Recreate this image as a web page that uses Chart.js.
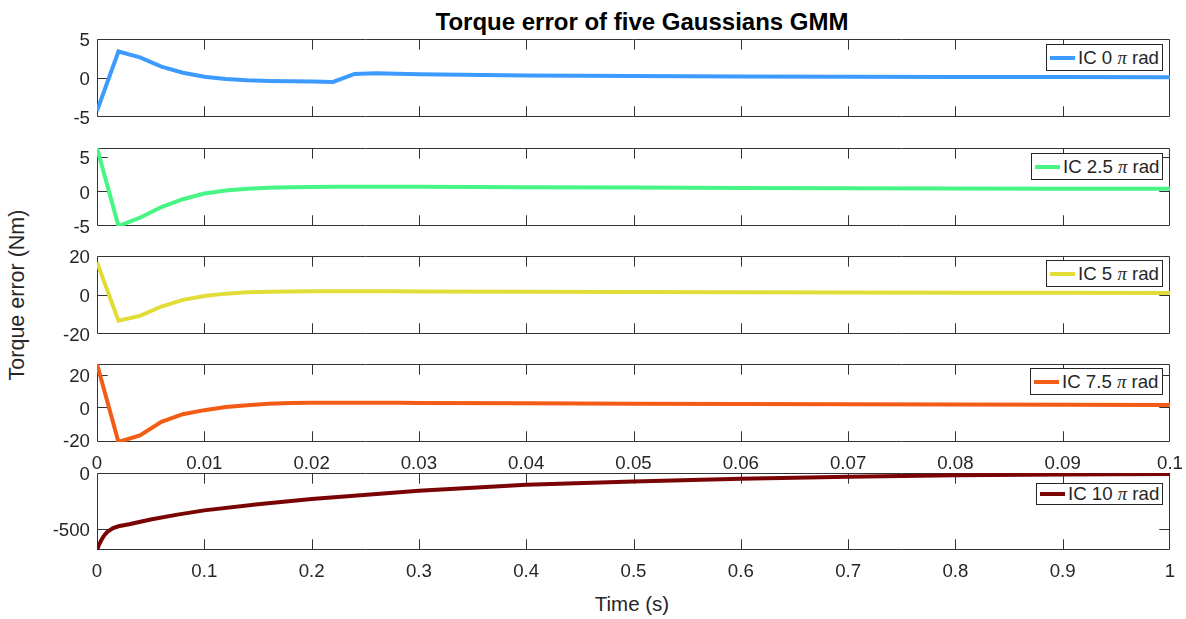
<!DOCTYPE html>
<html>
<head>
<meta charset="utf-8">
<script src="https://cdn.jsdelivr.net/npm/chart.js@4.4.0/dist/chart.umd.min.js"></script>
<style>
  body { margin: 0; background: #fff; }
  #fig { position: relative; width: 1186px; height: 619px; overflow: hidden;
         font-family: "Liberation Sans", Arial, sans-serif; color: #262626; }
  #fig canvas { position: absolute; left: 0; }
  .txt { position: absolute; white-space: nowrap; line-height: 1; }
  #title { left: 642px; top: 10px; transform: translateX(-50%); font-size: 24px; font-weight: bold; color: #000; }
  #xlabel { left: 632px; top: 594px; transform: translateX(-50%); font-size: 20.5px; }
  #ylabel { left: 18px; top: 295px; transform: translate(-50%, -50%) rotate(-90deg); font-size: 21.5px; }
  .legend { position: absolute; background: #fff; border: 1px solid #262626; box-sizing: border-box;
            display: flex; align-items: center; font-size: 18.67px; z-index: 5; white-space: nowrap; }
  .legend .sample { width: 25px; height: 4px; margin: 0 3px 0 3px; flex: none; }
  .legend i { font-family: "Liberation Serif", serif; }
</style>
</head>
<body>
<div id="fig">
  <div id="title" class="txt">Torque error of five Gaussians GMM</div>
  <div id="xlabel" class="txt">Time (s)</div>
  <div id="ylabel" class="txt">Torque error (Nm)</div>
</div>
<script>
// time axes
const timeShort = [0, 0.002, 0.004, 0.006, 0.008, 0.01, 0.012, 0.014, 0.016, 0.018, 0.02, 0.022,
  0.024, 0.026, 0.028, 0.03, 0.04, 0.05, 0.06, 0.07, 0.08, 0.09, 0.1];
const timeLong = [0, 0.002, 0.004, 0.006, 0.008, 0.01, 0.015, 0.02, 0.03, 0.05, 0.075, 0.1,
  0.15, 0.2, 0.3, 0.4, 0.5, 0.6, 0.7, 0.8, 0.9, 1.0];

// torque error per initial condition
const ic0  = [-4.2, 3.4, 2.65, 1.45, 0.68, 0.17, -0.13, -0.29, -0.37, -0.42, -0.46, -0.5,
  0.52, 0.6, 0.55, 0.48, 0.33, 0.25, 0.2, 0.17, 0.14, 0.12, 0.1];
const ic25 = [6.3, -5.0, -3.8, -2.25, -1.12, -0.3, 0.15, 0.38, 0.53, 0.6, 0.65, 0.68,
  0.69, 0.69, 0.68, 0.67, 0.62, 0.57, 0.52, 0.48, 0.44, 0.41, 0.38];
const ic5  = [16.8, -13.2, -10.7, -5.9, -2.5, -0.5, 0.7, 1.35, 1.7, 1.85, 1.9, 1.92,
  1.92, 1.9, 1.88, 1.85, 1.7, 1.55, 1.42, 1.3, 1.2, 1.1, 1.0];
const ic75 = [27, -21.5, -17.4, -9.0, -4.2, -1.7, 0.2, 1.4, 2.3, 2.7, 2.9, 2.95,
  2.95, 2.9, 2.85, 2.8, 2.55, 2.3, 2.1, 1.9, 1.75, 1.6, 1.45];
const ic10 = [-688, -640, -600, -568, -543, -523, -493, -476, -458, -415, -372, -334,
  -280, -232, -158, -104, -75, -52, -34, -21, -13, -8];

const icLabels = ["0", "2.5", "5", "7.5", "10"];

const xTicksShort = [0, 0.01, 0.02, 0.03, 0.04, 0.05, 0.06, 0.07, 0.08, 0.09, 0.1];
const xTickLabelsShort = ["0", "0.01", "0.02", "0.03", "0.04", "0.05", "0.06", "0.07", "0.08", "0.09", "0.1"];
const xTicksLong = [0, 0.1, 0.2, 0.3, 0.4, 0.5, 0.6, 0.7, 0.8, 0.9, 1];
const xTickLabelsLong = ["0", "0.1", "0.2", "0.3", "0.4", "0.5", "0.6", "0.7", "0.8", "0.9", "1"];

const yLimits = [[-5, 5], [-5, 6.3], [-20, 20], [-21.5, 27], [-688, 0]];
const yTicks = [[-5, 0, 5], [-5, 0, 5], [-20, 0, 20], [-20, 0, 20], [-500, 0]];
const yTickLabels = [["-5", "0", "5"], ["-5", "0", "5"], ["-20", "0", "20"], ["-20", "0", "20"], ["-500", "0"]];

// styles and layout
const lineColors = ["#3d9bff", "#46f584", "#e2dc37", "#f25c14", "#7a0403"];
const panels = [
  { t: 39,  b: 117, labels: false, leg: { l: 1046, t: 44,  w: 117, h: 27 } },
  { t: 148, b: 226, labels: false, leg: { l: 1031, t: 153, w: 132, h: 27 } },
  { t: 256, b: 334, labels: false, leg: { l: 1046, t: 260, w: 117, h: 27 } },
  { t: 364, b: 442, labels: true,  leg: { l: 1030, t: 368, w: 133, h: 27 } },
  { t: 473, b: 550, labels: true,  leg: { l: 1036, t: 483, w: 127, h: 22 } },
];
const series = [
  { x: timeShort, y: ic0 },
  { x: timeShort, y: ic25 },
  { x: timeShort, y: ic5 },
  { x: timeShort, y: ic75 },
  { x: timeLong, y: ic10 },
];

const TICK_LEN = 10.7;
const PAD_TOP = 14;
const tickFont = { family: "'Liberation Sans', Arial, sans-serif", size: 18.67 };

const axesBox = {
  id: "axesBox",
  beforeDatasetsDraw(chart) {
    const { ctx, chartArea: a, scales } = chart;
    ctx.save();
    ctx.strokeStyle = "#333333";
    ctx.lineWidth = 1;
    ctx.beginPath();
    ctx.rect(a.left + 0.5, a.top + 0.5, a.right - a.left - 1, a.bottom - a.top - 1);
    scales.x.ticks.forEach((t) => {
      const px = Math.round(scales.x.getPixelForValue(t.value)) + 0.5;
      if (px < a.left + 2 || px > a.right - 2) return;
      ctx.moveTo(px, a.bottom);
      ctx.lineTo(px, a.bottom - TICK_LEN);
      ctx.moveTo(px, a.top);
      ctx.lineTo(px, a.top + TICK_LEN);
    });
    scales.y.ticks.forEach((t) => {
      const py = Math.round(scales.y.getPixelForValue(t.value)) + 0.5;
      if (py < a.top + 2 || py > a.bottom - 2) return;
      ctx.moveTo(a.left, py);
      ctx.lineTo(a.left + TICK_LEN, py);
      ctx.moveTo(a.right, py);
      ctx.lineTo(a.right - TICK_LEN, py);
    });
    ctx.stroke();
    ctx.restore();
  },
};

const fig = document.getElementById("fig");

panels.forEach((p, i) => {
  const xh = p.labels ? 36 : 14;
  const canvas = document.createElement("canvas");
  canvas.width = 1186;
  canvas.height = PAD_TOP + (p.b - p.t) + xh;
  canvas.style.top = (p.t - PAD_TOP) + "px";
  fig.appendChild(canvas);

  const isLong = i === 4;
  const xt = isLong ? xTicksLong : xTicksShort;
  const xl = isLong ? xTickLabelsLong : xTickLabelsShort;

  new Chart(canvas, {
    type: "line",
    data: {
      datasets: [{
        data: series[i].x.map((x, k) => ({ x: x, y: series[i].y[k] })),
        borderColor: lineColors[i],
        borderWidth: 4,
        pointRadius: 0,
        fill: false,
        clip: 0,
      }],
    },
    options: {
      responsive: false,
      animation: false,
      events: [],
      layout: { padding: { left: 0, right: 16, top: PAD_TOP, bottom: 0 } },
      plugins: { legend: { display: false }, tooltip: { enabled: false } },
      scales: {
        x: {
          type: "linear",
          min: xt[0],
          max: xt[xt.length - 1],
          grid: { display: false, drawTicks: false },
          border: { display: false },
          ticks: {
            display: p.labels,
            font: tickFont,
            color: "#262626",
            padding: 11,
            maxRotation: 0,
            autoSkip: false,
            callback: (v, idx) => xl[idx],
          },
          afterBuildTicks: (s) => { s.ticks = xt.map((v) => ({ value: v })); },
          afterFit: (s) => { s.height = xh; s.paddingLeft = 0; s.paddingRight = 0; },
        },
        y: {
          type: "linear",
          min: yLimits[i][0],
          max: yLimits[i][1],
          grid: { display: false, drawTicks: false },
          border: { display: false },
          ticks: {
            font: tickFont,
            color: "#262626",
            padding: 7,
            labelOffset: 2,
            autoSkip: false,
            callback: (v, idx) => yTickLabels[i][idx],
          },
          afterBuildTicks: (s) => { s.ticks = yTicks[i].map((v) => ({ value: v })); },
          afterFit: (s) => { s.width = 97; s.paddingTop = 0; s.paddingBottom = 0; },
        },
      },
    },
    plugins: [axesBox],
  });

  const leg = document.createElement("div");
  leg.className = "legend";
  leg.style.left = p.leg.l + "px";
  leg.style.top = p.leg.t + "px";
  leg.style.width = p.leg.w + "px";
  leg.style.height = p.leg.h + "px";
  leg.innerHTML = '<span class="sample" style="background:' + lineColors[i] + '"></span>' +
    "<span>IC " + icLabels[i] + " <i>π</i> rad</span>";
  fig.appendChild(leg);
});
</script>
</body>
</html>
